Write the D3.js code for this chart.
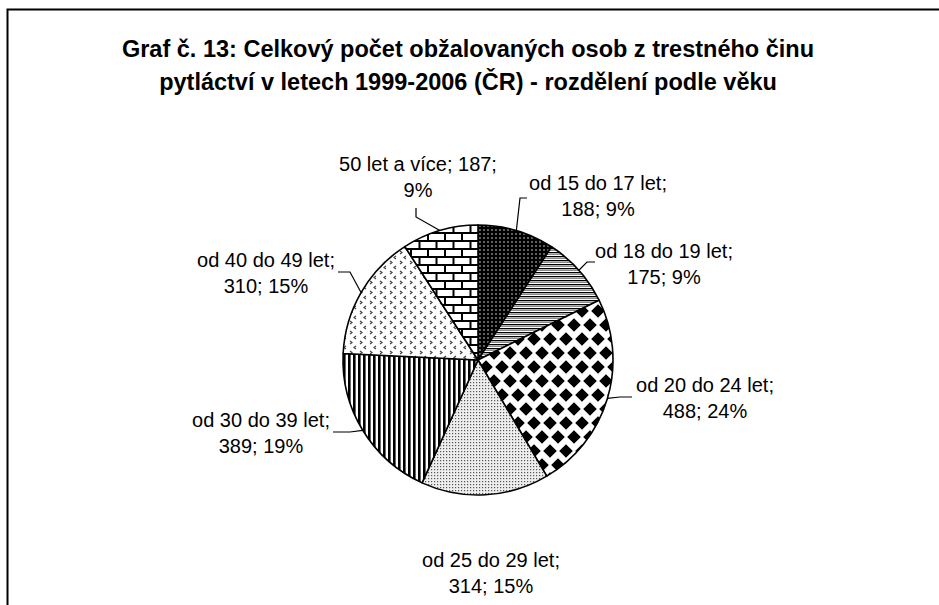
<!DOCTYPE html>
<html>
<head>
<meta charset="utf-8">
<script src="https://cdn.jsdelivr.net/npm/d3@7"></script>
<style>
  html, body { margin: 0; padding: 0; background: #fff; }
  svg { display: block; }
</style>
</head>
<body>
<svg id="chart" width="939" height="605"></svg>
<script>
// ---- data ----
const categories = ["od 15 do 17 let", "od 18 do 19 let", "od 20 do 24 let", "od 25 do 29 let",
                    "od 30 do 39 let", "od 40 do 49 let", "50 let a více"];
const values = [188, 175, 488, 314, 389, 310, 187];
const percents = ["9%", "9%", "24%", "15%", "19%", "15%", "9%"];
const titleLines = ["Graf č. 13: Celkový počet obžalovaných osob z trestného činu",
                    "pytláctví v letech 1999-2006 (ČR) - rozdělení podle věku"];

// ---- layout (positions of labels / leader elbows) ----
const labelLayout = [
  { x: 598, y: 190, lead: [[527, 198], [520, 198]] },
  { x: 664, y: 258, lead: [[595, 262], [587, 262]] },
  { x: 705, y: 392, lead: [[632, 397], [620, 397]] },
  { x: 491, y: 567, lead: null },
  { x: 261, y: 427, lead: [[333, 432], [350, 432]] },
  { x: 266, y: 267, lead: [[338, 272], [350, 272]] },
  { x: 418, y: 171, lead: [[416, 208], [416, 217]] }
];
const patternIds = ["pDots", "pHStripe", "pDiamond", "pFineDots", "pVStripe", "pDivot", "pBrick"];

const svg = d3.select("#chart");
const defs = svg.append("defs");

function pat(id, w, h) {
  return defs.append("pattern").attr("id", id).attr("patternUnits", "userSpaceOnUse")
    .attr("width", w).attr("height", h);
}
// 15-17: light dots on black
{ const p = pat("pDots", 4, 4);
  p.append("rect").attr("width", 4).attr("height", 4).attr("fill", "#000");
  p.append("circle").attr("cx", 2).attr("cy", 2).attr("r", 0.8).attr("fill", "#ddd"); }
// 18-19: horizontal lines
{ const p = pat("pHStripe", 4, 4);
  p.append("rect").attr("width", 4).attr("height", 4).attr("fill", "#fff");
  p.append("rect").attr("y", 0).attr("width", 4).attr("height", 1.3).attr("fill", "#000");
  p.append("rect").attr("y", 2).attr("width", 4).attr("height", 1).attr("fill", "#888"); }
// 20-24: diamonds
{ const p = pat("pDiamond", 16, 28);
  p.append("rect").attr("width", 16).attr("height", 28).attr("fill", "#fff");
  const s = 6.8;
  const d = (cx, cy) => `M${cx},${cy - s}L${cx + s},${cy}L${cx},${cy + s}L${cx - s},${cy}Z`;
  const centers = [[8, 7], [0, 21], [16, 21], [8, 35], [0, -7], [16, -7]];
  p.append("path").attr("d", centers.map(c => d(c[0], c[1])).join("")).attr("fill", "#000"); }
// 25-29: fine gray dots
{ const p = pat("pFineDots", 3, 3);
  p.append("rect").attr("width", 3).attr("height", 3).attr("fill", "#eee");
  p.append("rect").attr("x", 1).attr("y", 1).attr("width", 1.2).attr("height", 1.2).attr("fill", "#555"); }
// 30-39: vertical stripes
{ const p = pat("pVStripe", 5, 5);
  p.append("rect").attr("width", 5).attr("height", 5).attr("fill", "#fff");
  p.append("rect").attr("x", 0).attr("width", 2.6).attr("height", 5).attr("fill", "#000"); }
// 40-49: divot
{ const p = pat("pDivot", 10, 10);
  p.append("rect").attr("width", 10).attr("height", 10).attr("fill", "#fff");
  p.append("path").attr("d", "M2,1L4,2.5L2,4").attr("fill", "none").attr("stroke", "#444").attr("stroke-width", 1.2);
  p.append("path").attr("d", "M8,6L6,7.5L8,9").attr("fill", "none").attr("stroke", "#444").attr("stroke-width", 1.2); }
// 50+: bricks
{ const p = pat("pBrick", 17, 16);
  p.append("rect").attr("width", 17).attr("height", 16).attr("fill", "#fff");
  p.append("rect").attr("x", 0).attr("y", 0).attr("width", 17).attr("height", 2).attr("fill", "#000");
  p.append("rect").attr("x", 0).attr("y", 8).attr("width", 17).attr("height", 2).attr("fill", "#000");
  p.append("rect").attr("x", 0).attr("y", 0).attr("width", 2).attr("height", 8).attr("fill", "#000");
  p.append("rect").attr("x", 8.5).attr("y", 8).attr("width", 2).attr("height", 8).attr("fill", "#000"); }

// frame
svg.append("path").attr("d", "M7.5,605V9.5H939").attr("fill", "none")
  .attr("stroke", "#000").attr("stroke-width", 2);

// title
svg.append("g").selectAll("text").data(titleLines).join("text")
  .attr("x", 468).attr("y", (d, i) => 57 + i * 33)
  .attr("text-anchor", "middle")
  .attr("font-family", "Liberation Sans, Arial, sans-serif")
  .attr("font-weight", "bold").attr("font-size", 23.5).attr("fill", "#000")
  .text(d => d);

// pie
const cx = 478, cy = 360, r = 135;
const pie = d3.pie().sort(null).value(d => d)(values);
const arc = d3.arc().innerRadius(0).outerRadius(r);
const g = svg.append("g").attr("transform", `translate(${cx},${cy})`);
g.selectAll("path").data(pie).join("path")
  .attr("d", arc)
  .attr("fill", (d, i) => `url(#${patternIds[i]})`)
  .attr("stroke", "#000").attr("stroke-width", 1.6).attr("stroke-linejoin", "round");

// leader lines
const edgePoint = d => {
  const a = (d.startAngle + d.endAngle) / 2;
  return [cx + r * Math.sin(a), cy - r * Math.cos(a)];
};
const line = d3.line();
svg.append("g").selectAll("path").data(pie.filter((d, i) => labelLayout[i].lead)).join("path")
  .attr("d", d => line([...labelLayout[d.index].lead, edgePoint(d)]))
  .attr("fill", "none").attr("stroke", "#000").attr("stroke-width", 1.2);

// labels
const lg = svg.append("g")
  .attr("font-family", "Liberation Sans, Arial, sans-serif")
  .attr("font-size", 20).attr("fill", "#000").attr("text-anchor", "middle");
pie.forEach((d, i) => {
  const L = labelLayout[i];
  const lines = i === 6
    ? [`${categories[i]}; ${values[i]};`, `${percents[i]}`]
    : [`${categories[i]};`, `${values[i]}; ${percents[i]}`];
  lines.forEach((t, k) => {
    lg.append("text").attr("x", L.x).attr("y", L.y + k * 26).text(t);
  });
});
</script>
</body>
</html>
